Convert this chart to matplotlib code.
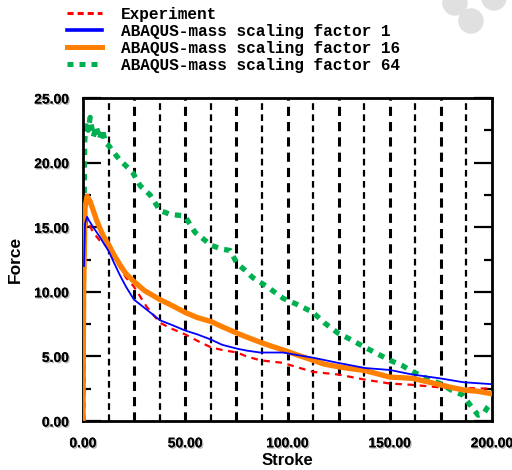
import numpy as np
import matplotlib
matplotlib.use('agg')
import matplotlib.pyplot as plt
import matplotlib.patheffects as pe
from matplotlib.patches import Ellipse
from matplotlib.lines import Line2D
from matplotlib.ticker import MultipleLocator

# series (stroke, force)
exp_x = [0, 0.5, 1, 2, 3, 5, 8, 12.7, 15, 18, 21, 24.9, 31.3, 37.6, 44, 50, 56, 62.6, 68,
         75.3, 80, 86.6, 97.8, 105, 112.5, 124.7, 137.9, 150, 161, 174.6, 186, 200]
exp_y = [0, 8, 14, 15.6, 15.2, 14.6, 14.0, 13.4, 12.6, 11.9, 11.1, 10.4, 8.8, 7.6, 7.1,
         6.7, 6.2, 5.7, 5.5, 5.3, 5.0, 4.7, 4.5, 4.15, 3.8, 3.6, 3.2, 2.9, 2.8, 2.6, 2.55, 2.5]

ms1_x = [0.5, 1, 2, 3, 5, 8, 12.7, 15, 18, 21, 24.9, 31.3, 37.6, 44, 50, 56, 62.6, 68, 75.3,
         80, 86.6, 97.8, 105, 112.5, 124.7, 137.9, 150, 161, 174.6, 186, 200]
ms1_y = [12, 15.3, 15.8, 15.5, 15.0, 14.3, 13.1, 12.3, 11.3, 10.4, 9.4, 8.6, 7.8, 7.4, 7.0,
         6.7, 6.3, 5.9, 5.6, 5.45, 5.3, 5.3, 5.1, 4.9, 4.5, 4.1, 3.95, 3.6, 3.3, 3.0, 2.85]

ms16_x = [0, 0.3, 1, 2, 3.5, 5, 6.5, 8.3, 10, 12.7, 15, 18, 21, 24.9, 30, 37.6, 44, 50, 56,
          62.6, 68, 75.3, 80, 86.6, 92, 97.8, 105, 112.5, 118, 124.7, 131, 137.9, 144, 150,
          156, 161, 168, 174.6, 180, 186, 193, 200]
ms16_y = [0, 10, 16.5, 17.4, 17.0, 16.3, 15.6, 14.9, 14.3, 13.6, 12.9, 12.1, 11.4, 10.8,
          10.1, 9.4, 8.9, 8.4, 8.0, 7.7, 7.3, 6.8, 6.5, 6.1, 5.8, 5.5, 5.1, 4.7, 4.4, 4.2,
          4.05, 3.9, 3.65, 3.4, 3.35, 3.3, 3.05, 2.8, 2.6, 2.4, 2.3, 2.1]

ms64_x = [0, 0.3, 0.8, 1.5, 2.5, 3.5, 5, 6.5, 8, 9.5, 11, 12.7, 15, 18, 22, 24.4, 28, 32.8,
          37.6, 42.5, 48, 50, 54.8, 58, 62.6, 68, 71.9, 75.3, 79, 83, 90, 97.8, 105, 112.5,
          118, 124.7, 131, 137.9, 144, 150.1, 156, 161.4, 168, 174.6, 180, 185.8, 189, 193.2,
          196, 198, 200]
ms64_y = [0, 12, 21.5, 23.2, 22.5, 23.5, 22.0, 22.8, 21.8, 22.6, 21.5, 21.3, 20.8, 20.2,
          19.6, 19.2, 18.2, 17.5, 16.3, 16.0, 15.9, 15.8, 14.6, 14.2, 13.6, 13.3, 13.2, 12.2,
          11.7, 11.1, 10.4, 9.5, 9.0, 8.4, 7.6, 6.8, 6.3, 5.7, 5.2, 4.7, 4.3, 3.8, 3.3, 2.9,
          2.4, 2.0, 1.3, 0.45, 0.6, 1.1, 1.5]

labels = ['Experiment', 'ABAQUS-mass scaling factor 1',
          'ABAQUS-mass scaling factor 16', 'ABAQUS-mass scaling factor 64']
x_ticks = [0, 50, 100, 150, 200]
y_ticks = [0, 5, 10, 15, 20, 25]

fig = plt.figure(figsize=(5.12, 4.7), dpi=100)
ax = fig.add_axes([83/512, 1-421/470, 409/512, 323/470])

# vertical dashed grid every 12.5
for i, gx in enumerate(np.arange(12.5, 200, 12.5)):
    ax.axvline(gx, color='k', lw=2.2 if i % 2 else 1.6, ls=(0, (3, 2)), zorder=1)

ax.plot(exp_x, exp_y, color='#ff0000', lw=1.6, ls=(0, (3, 2.5)), zorder=3)
ax.plot(ms1_x, ms1_y, color='#0000ff', lw=1.3, zorder=4)
ax.plot(ms16_x, ms16_y, color='#ff7f00', lw=3.8, zorder=3)
ax.plot(ms64_x, ms64_y, color='#00b050', lw=3.8, ls=(0, (1.2, 1.2)), zorder=2)

ax.set_xlim(0, 200)
ax.set_ylim(0, 25)
ax.set_xticks(x_ticks)
ax.set_xticklabels([f'{v:.2f}' for v in x_ticks])
ax.set_yticks(y_ticks)
ax.set_yticklabels([f'{v:.2f}' for v in y_ticks])
ax.yaxis.set_minor_locator(MultipleLocator(2.5))
ax.tick_params(axis='x', length=0, pad=11)
ax.tick_params(axis='y', which='major', direction='in', left=True, right=True,
               length=13, width=1.6, pad=10)
ax.tick_params(axis='y', which='minor', direction='in', left=True, right=True,
               length=6, width=1.6)
for s in ax.spines.values():
    s.set_linewidth(2)

shadow = [pe.withSimplePatchShadow(offset=(1, -1), shadow_rgbFace='#888888', alpha=0.6),
          pe.Normal()]
for t in ax.get_xticklabels() + ax.get_yticklabels():
    t.set_fontfamily('Liberation Sans')
    t.set_fontweight('bold')
    t.set_fontsize(10)
    t.set_path_effects(shadow)

ax.set_xlabel('Stroke', fontfamily='Liberation Sans', fontweight='bold', fontsize=12,
              labelpad=2)
ax.set_ylabel('Force', fontfamily='Liberation Sans', fontweight='bold', fontsize=12.5,
              labelpad=8)

# legend handles drawn a bit heavier than the plotted lines
handles = [Line2D([], [], color='#ff0000', lw=2.2, ls=(0, (2, 1.3))),
           Line2D([], [], color='#0000ff', lw=2.6),
           Line2D([], [], color='#ff7f00', lw=3.6),
           Line2D([], [], color='#00b050', lw=3.6, ls=(0, (1.2, 1.2)))]
fig.legend(handles, labels, loc='upper left', bbox_to_anchor=(67/512, 1-7/470),
           frameon=False, borderpad=0, borderaxespad=0, handlelength=2.2,
           handletextpad=1.15, labelspacing=0.12,
           prop={'family': 'Liberation Mono', 'weight': 'bold', 'size': 11.6})

# grey blob in the top right corner
for cx, cy, r in [(455, 3, 12), (471, 21, 12), (494, -2, 12)]:
    fig.add_artist(Ellipse((cx/512, 1-cy/470), 2*r/512, 2*r/470,
                           color='#e0e0e0', transform=fig.transFigure, zorder=0))

fig.savefig('out.png', dpi=100)
